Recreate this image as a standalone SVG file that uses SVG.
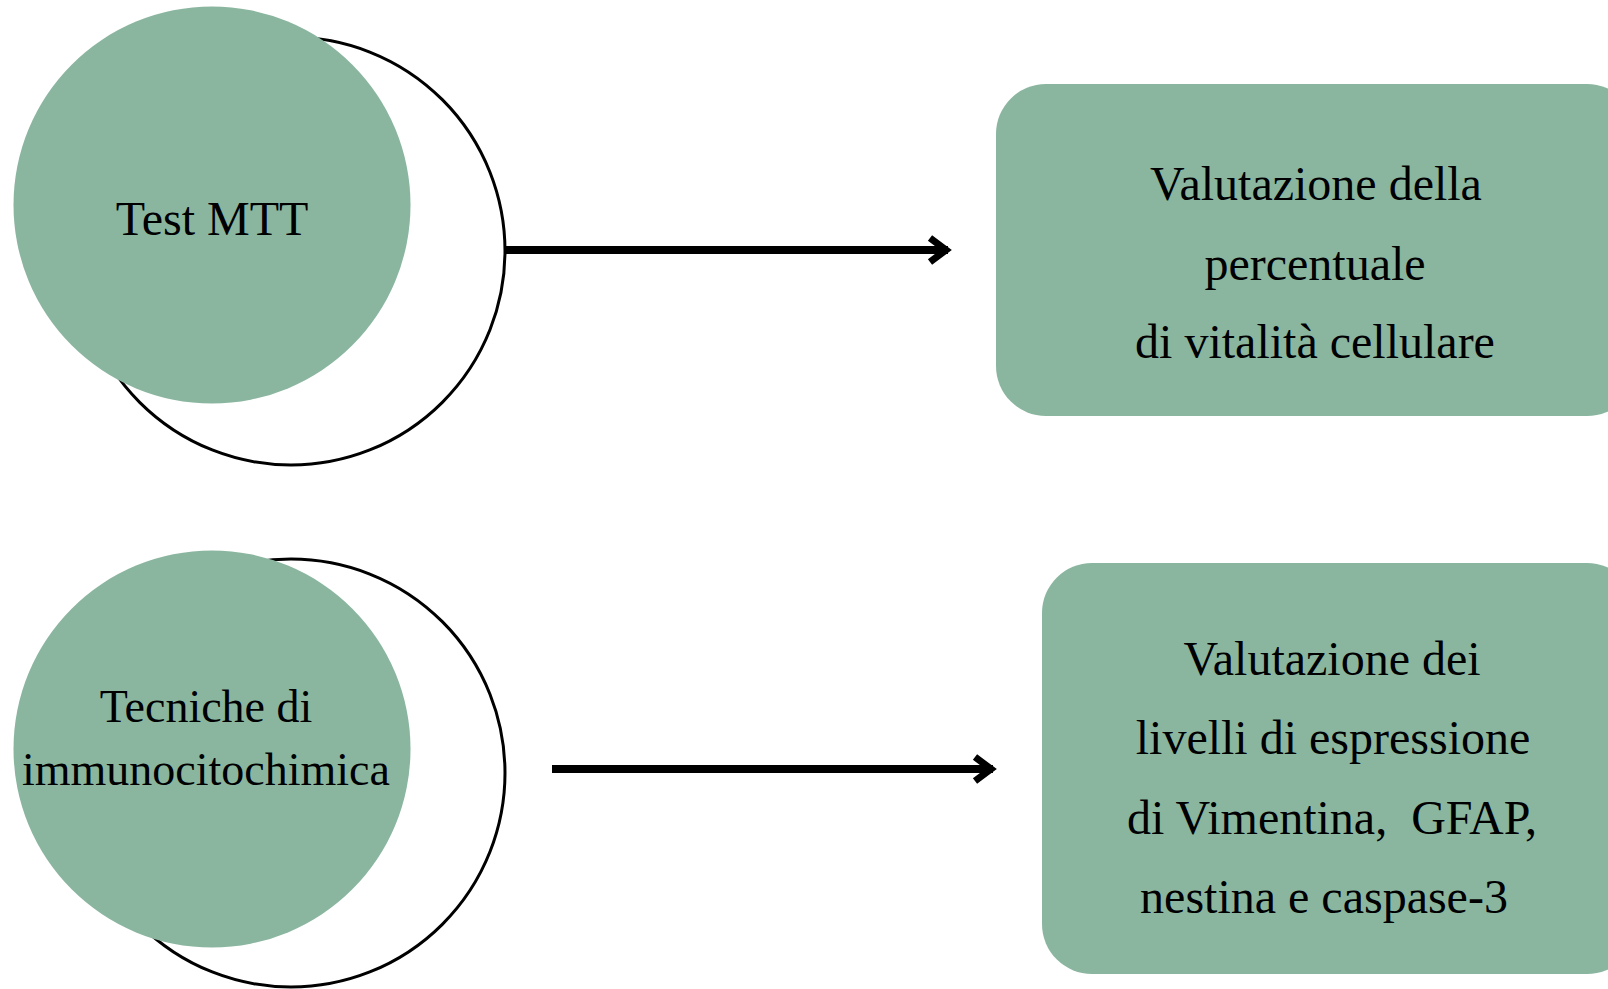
<svg xmlns="http://www.w3.org/2000/svg" width="1608" height="989" viewBox="0 0 1608 989">
<style>
.ring{fill:none;stroke:#000;stroke-width:3}
.disc{fill:#8AB6A0}
.box{fill:#8AB6A0}
.t{font-family:"Liberation Serif","Times New Roman",serif;fill:#000;text-anchor:middle}
.edge{stroke:#000;stroke-width:8;fill:none}
</style>
<defs>
<marker id="chev" markerUnits="userSpaceOnUse" viewBox="0 0 30 34" refX="24" refY="17" markerWidth="30" markerHeight="34" orient="auto">
<path d="M6,5 L22,17 L6,29" fill="none" stroke="#000" stroke-width="7"/>
</marker>
</defs>
<rect width="1608" height="989" fill="#fff"/>
<g id="connectors">
<line class="edge" x1="506" y1="250" x2="948" y2="250" marker-end="url(#chev)"/>
<line class="edge" x1="552" y1="769" x2="993" y2="769" marker-end="url(#chev)"/>
</g>
<g id="node-mtt">
<circle class="ring" cx="291" cy="251" r="214"/>
<circle class="disc" cx="212" cy="205" r="198.5"/>
<text class="t" x="212" y="235" font-size="48">Test MTT</text>
</g>
<g id="node-icc">
<circle class="ring" cx="291" cy="773" r="214"/>
<circle class="disc" cx="212" cy="749" r="198.5"/>
<text class="t" x="206" y="722" font-size="46">Tecniche di</text>
<text class="t" x="206" y="785" font-size="46">immunocitochimica</text>
</g>
<g id="node-vitalita">
<rect class="box" x="996" y="84" width="641" height="332" rx="50" ry="50"/>
<text class="t" x="1316" y="200" font-size="48">Valutazione della</text>
<text class="t" x="1315" y="280" font-size="48">percentuale</text>
<text class="t" x="1315" y="358" font-size="48">di vitalità cellulare</text>
</g>
<g id="node-espressione">
<rect class="box" x="1042" y="563" width="595" height="411" rx="50" ry="50"/>
<text class="t" x="1332" y="675" font-size="48">Valutazione dei</text>
<text class="t" x="1333" y="754" font-size="48">livelli di espressione</text>
<text class="t" x="1332" y="834" font-size="48" xml:space="preserve">di Vimentina,  GFAP,</text>
<text class="t" x="1324" y="913" font-size="48">nestina e caspase-3</text>
</g>
</svg>
